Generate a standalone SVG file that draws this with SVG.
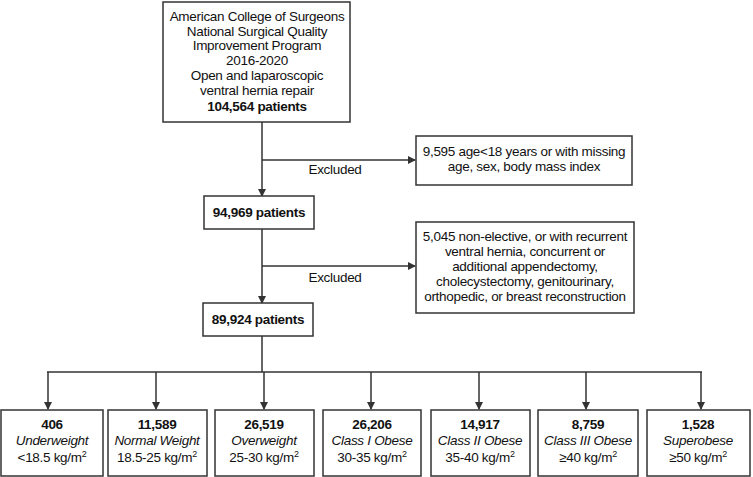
<svg xmlns="http://www.w3.org/2000/svg" width="753" height="477" viewBox="0 0 753 477">
<style>
rect{fill:#fff;stroke:#333;stroke-width:1.5}
text{font-family:"Liberation Sans",Arial,sans-serif;font-size:13.5px;letter-spacing:-0.3px;fill:#111;text-anchor:middle}
.b{font-weight:bold}
.i{font-style:italic}
.c line{stroke:#333;stroke-width:1.5}
.c .a{marker-end:url(#ar)}
</style>
<defs><marker id="ar" markerWidth="8" markerHeight="8" refX="7" refY="4" orient="auto" markerUnits="userSpaceOnUse"><path d="M0,0 L8,4 L0,8Z" fill="#333"/></marker></defs>
<g class="c">
<line class="a" x1="262" y1="122" x2="262" y2="196"/>
<line class="a" x1="262" y1="160" x2="415" y2="160"/>
<line class="a" x1="262" y1="229" x2="262" y2="303"/>
<line class="a" x1="262" y1="266" x2="415" y2="266"/>
<line x1="262" y1="336" x2="262" y2="372"/>
<line x1="47" y1="372" x2="702" y2="372"/>
<line class="a" x1="48" y1="372" x2="48" y2="409"/>
<line class="a" x1="156" y1="372" x2="156" y2="409"/>
<line class="a" x1="264" y1="372" x2="264" y2="409"/>
<line class="a" x1="371" y1="372" x2="371" y2="409"/>
<line class="a" x1="479" y1="372" x2="479" y2="409"/>
<line class="a" x1="586" y1="372" x2="586" y2="409"/>
<line class="a" x1="701" y1="372" x2="701" y2="409"/>
</g>
<text x="335" y="174">Excluded</text>
<text x="335" y="282">Excluded</text>
<g id="n0"><rect x="163" y="2" width="187" height="120"/>
<text x="257" y="21">American College of Surgeons</text>
<text x="257" y="36">National Surgical Quality</text>
<text x="257" y="50">Improvement Program</text>
<text x="257" y="65">2016-2020</text>
<text x="257" y="80">Open and laparoscopic</text>
<text x="257" y="95">ventral hernia repair</text>
<text x="257" y="111" class="b">104,564 patients</text></g>
<g id="x1"><rect x="416" y="136" width="216" height="49"/>
<text x="524" y="156">9,595 age&lt;18 years or with missing</text>
<text x="524" y="171">age, sex, body mass index</text></g>
<g id="n1"><rect x="204" y="196" width="110" height="33"/><text x="259" y="217" class="b">94,969 patients</text></g>
<g id="x2"><rect x="416" y="222" width="218" height="91"/>
<text x="525" y="241">5,045 non-elective, or with recurrent</text>
<text x="525" y="256">ventral hernia, concurrent or</text>
<text x="525" y="271">additional appendectomy,</text>
<text x="525" y="286">cholecystectomy, genitourinary,</text>
<text x="525" y="301">orthopedic, or breast reconstruction</text></g>
<g id="n2"><rect x="203" y="303" width="110" height="33"/><text x="258" y="324" class="b">89,924 patients</text></g>
<g id="b1"><rect x="1" y="410" width="102" height="66"/><text x="52" y="429" class="b">406</text><text x="52" y="445" class="i">Underweight</text><text x="52" y="462">&lt;18.5 kg/m<tspan dy="-5" font-size="9">2</tspan></text></g>
<g id="b2"><rect x="108" y="410" width="99" height="66"/><text x="157" y="429" class="b">11,589</text><text x="157" y="445" class="i">Normal Weight</text><text x="157" y="462">18.5-25 kg/m<tspan dy="-5" font-size="9">2</tspan></text></g>
<g id="b3"><rect x="215" y="410" width="99" height="66"/><text x="264" y="429" class="b">26,519</text><text x="264" y="445" class="i">Overweight</text><text x="264" y="462">25-30 kg/m<tspan dy="-5" font-size="9">2</tspan></text></g>
<g id="b4"><rect x="323" y="410" width="98" height="66"/><text x="372" y="429" class="b">26,206</text><text x="372" y="445" class="i">Class I Obese</text><text x="372" y="462">30-35 kg/m<tspan dy="-5" font-size="9">2</tspan></text></g>
<g id="b5"><rect x="431" y="410" width="99" height="66"/><text x="480" y="429" class="b">14,917</text><text x="480" y="445" class="i">Class II Obese</text><text x="480" y="462">35-40 kg/m<tspan dy="-5" font-size="9">2</tspan></text></g>
<g id="b6"><rect x="538" y="410" width="100" height="66"/><text x="588" y="429" class="b">8,759</text><text x="588" y="445" class="i">Class III Obese</text><text x="588" y="462">≥40 kg/m<tspan dy="-5" font-size="9">2</tspan></text></g>
<g id="b7"><rect x="647" y="410" width="103" height="66"/><text x="698" y="429" class="b">1,528</text><text x="698" y="445" class="i">Superobese</text><text x="698" y="462">≥50 kg/m<tspan dy="-5" font-size="9">2</tspan></text></g>
</svg>
